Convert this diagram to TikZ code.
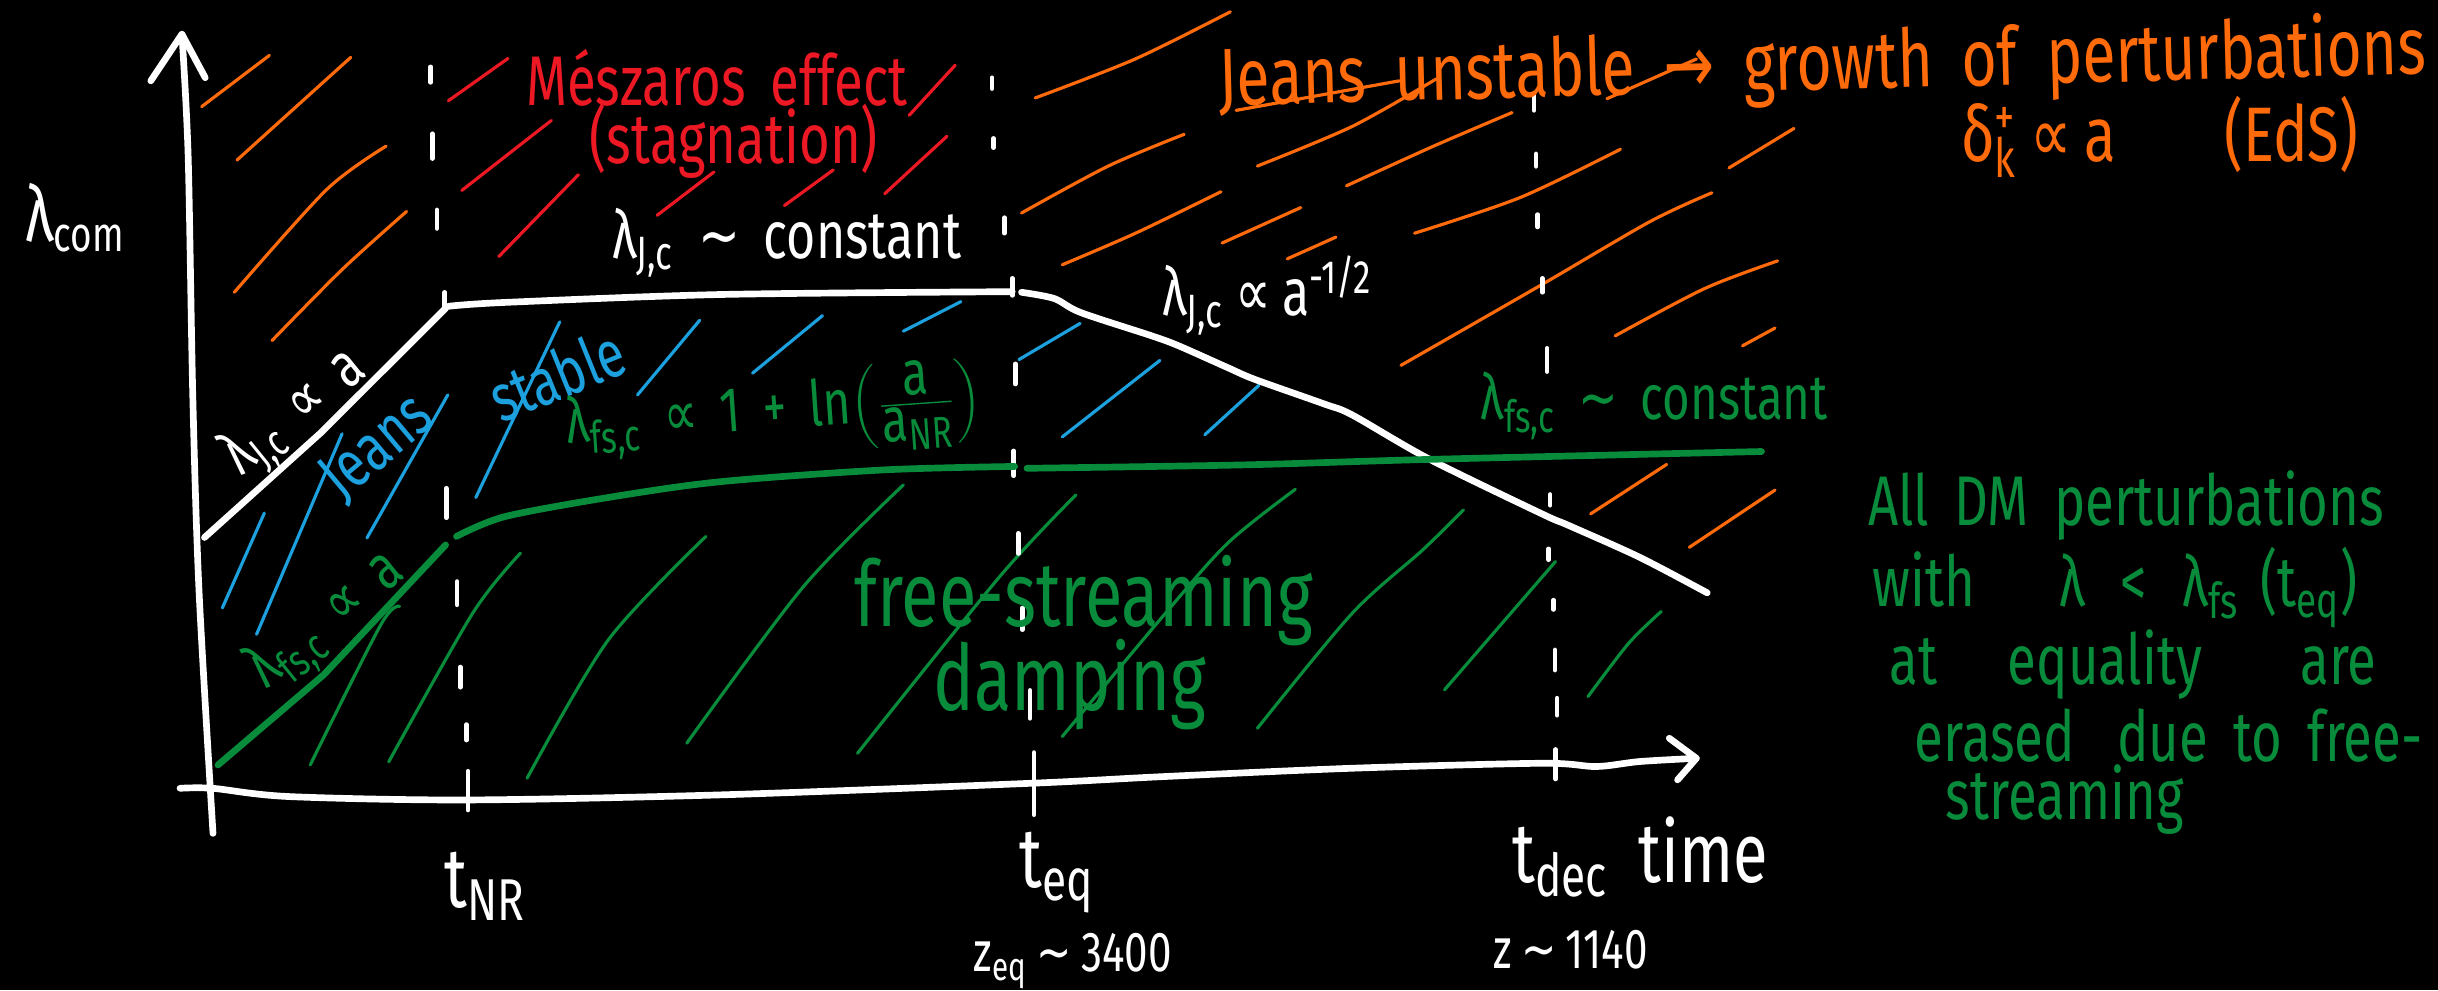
\documentclass[tikz,border=0pt]{standalone}
\usepackage{fontspec}
\setmainfont{Fira Sans}[FakeStretch=0.75,WordSpace=1.8]
\newfontfamily\symf{DejaVu Sans}[FakeStretch=0.75]
\definecolor{ora}{RGB}{255,106,10}
\definecolor{redm}{RGB}{236,24,36}
\definecolor{blu}{RGB}{28,160,222}
\definecolor{grn}{RGB}{8,140,60}
\newcommand{\fs}[1]{\fontsize{#1}{#1}\selectfont}
\newcommand{\lo}[1]{\textsubscript{#1}}
\newcommand{\hi}[1]{\textsuperscript{#1}}
\newcommand{\prop}{{\symf ∝}}
\newcommand{\tld}{{\symf ∼}}
\tikzset{
  hatch/.style={line width=0.9pt, line cap=round, line join=round},
  axis/.style={white, line width=1.9pt, line cap=round, line join=round},
  curve/.style={line width=1.9pt, line cap=round, line join=round},
  dsh/.style={white, line width=1.3pt, line cap=round},
  lbl/.style={inner sep=0pt, anchor=center},
  rblock/.style={inner sep=0pt, anchor=base west, grn},
}
\begin{document}
\begin{tikzpicture}[x=0.015548cm, y=-0.015548cm]
\fill[black] (0,0) rectangle (1568,637);
\useasboundingbox (0,0) rectangle (1568,637);

% ---------- hatching: orange ----------
\begin{scope}[ora, hatch]
\draw (129.7,68.6) -- (173.3,35.6);
\draw (152.4,103) -- (225.6,36.9);
\draw plot[smooth] coordinates {(150.7,188) (210,122) (248.3,94)};
\draw plot[smooth] coordinates {(175,219) (220.4,173) (261.5,136)};
\draw plot[smooth] coordinates {(665.8,63) (730,38) (791.3,7.6)};
\draw plot[smooth] coordinates {(657,137) (712.8,106.8) (761.6,86.4)};
\draw plot[smooth] coordinates {(683.2,170.3) (730.3,150) (785.3,123.3)};
\draw (786,156.3) -- (836.6,133.5);
\draw (827.9,166.5) -- (859.2,152.5);
\draw plot[smooth] coordinates {(808.7,106.8) (869.7,81.3) (923.7,50.8)};
\draw (795,71) -- (900,52);
\draw plot[smooth] coordinates {(866,119.5) (922,94) (972.5,72.4)};
\draw (1033.5,63.5) -- (1091,38);
\draw plot[smooth] coordinates {(909.8,150) (977.8,127) (1042.2,96)};
\draw plot[smooth] coordinates {(901,235) (991.7,183) (1061.4,142.4) (1101,124)};
\draw (1112,108) -- (1153.8,82.6);
\draw plot[smooth] coordinates {(1038.8,216) (1096.3,185.6) (1143.3,167.8)};
\draw (1120.7,222.4) -- (1141.6,211);
\draw (1023,330.5) -- (1071.9,298.7);
\draw (1086.5,352) -- (1141.6,315.2);
\end{scope}

% ---------- hatching: red ----------
\begin{scope}[redm, hatch]
\draw (288.4,64.8) -- (326.7,37.6);
\draw (297,122.5) -- (354.6,77.5);
\draw (320.8,165) -- (372,112.4);
\draw (422.6,138.5) -- (459.2,110.6);
\draw (504.5,132.2) -- (535.9,109.3);
\draw (569,124.6) -- (609,87.7);
\draw (584.7,74.2) -- (614.3,42);
\end{scope}

% ---------- hatching: blue ----------
\begin{scope}[blu, hatch]
\draw (143,391) -- (170,330);
\draw (165,408) -- (220,279);
\draw (236,346) -- (288,254);
\draw (306,320) -- (360,207);
\draw (410,254) -- (450,206);
\draw (484,240) -- (529,203);
\draw (581,213) -- (618,194);
\draw (655.3,231.3) -- (694.7,208);
\draw (683.2,281) -- (746,231.8);
\draw (774.9,279.6) -- (809.7,247.8);
\end{scope}

% ---------- hatching: green ----------
\begin{scope}[grn, hatch]
\draw plot[smooth] coordinates {(199.5,492) (244.8,402) (257,390)};
\draw plot[smooth] coordinates {(250,490) (304,394.4) (334.7,355.8)};
\draw plot[smooth] coordinates {(339,500.5) (391.2,411.6) (454,345)};
\draw plot[smooth] coordinates {(441.7,478) (516.7,377.3) (581,311.9)};
\draw plot[smooth] coordinates {(551.5,484.5) (643,370.8) (692,318.3)};
\draw plot[smooth] coordinates {(683.2,473.7) (747.7,396.6) (789.5,349.4) (833.1,314.7)};
\draw plot[smooth] coordinates {(808.7,468.4) (869.7,394.4) (915,353.7) (941.2,328)};
\draw (929,443.7) -- (1000.4,361.2);
\draw plot[smooth] coordinates {(1021.3,448) (1047.5,413.7) (1068.4,393.3)};
\end{scope}

% ---------- dashed time markers ----------
\foreach \xa/\ya/\xb/\yb in {277/43/277/53, 278/86/278/102, 281/135/281/147, 286/188/286/197,
  287/314/287/333, 294/374/294/389, 296/429/296/442, 300/466/300/476, 301/496/301/521,
  638/50/638/57, 639/89/639/95, 646/140/646/150, 651/179/651/190, 653/234/653/247,
  652/290/652/306, 655/343/655/356, 657.5/391/657.5/405, 662.5/444/662.5/462, 665/484/665/524,
  986.5/60/986.5/71, 988/99/988/107, 989/138/989/146, 992/179/992/188, 995/224/995/239,
  997/318/997/325, 996/353/996/360, 999/386/999/392, 1000/418/1000/431, 1001.5/449/1001.5/460,
  1000.5/482/1000.5/501}
  \draw[dsh] (\xa,\ya) -- (\xb,\yb);

% ---------- axes ----------
\draw[axis] plot[smooth] coordinates {(137,536) (128,380) (124,255) (121,100) (117,22)};
\draw[axis] (97,52) -- (117,22) -- (132,50);
\draw[axis] plot[smooth] coordinates {(115.8,507) (136.7,507) (185.5,512.3) (300.6,514.5)
  (464.4,511.2) (662.4,503.8) (747.7,499.5) (869.7,494.1) (991.7,490.9) (1026.6,493)
  (1054.4,489.8) (1091,487.7)};
\draw[axis] (1073.6,474.8) -- (1091,487.7) -- (1078.9,501.6);

% ---------- Jeans length (white) ----------
\draw[curve, white] (131.5,345.7) -- (206.4,278.3) -- (286.6,198.3);
\draw[curve, white] plot[smooth] coordinates {(288.4,197) (325,194.5) (464.4,189.4) (651,187.6)};
\draw[curve, white] plot[smooth] coordinates {(657,188) (678,192) (695,201) (740.7,216)
  (758,222.4) (789.5,236.4) (807,244) (851.6,259.8) (869.7,266.9) (918.5,294.9)
  (991.7,330.5) (1009,338) (1054.5,358.4) (1098,381.3)};

% ---------- free-streaming length (green) ----------
\draw[curve, grn] (140.2,492) -- (208.2,434) -- (286.6,350.5);
\draw[curve, grn] plot[smooth] coordinates {(293.6,345) (325,332.2) (394.7,319.4)
  (464.4,309.7) (569,302.2) (652.6,300)};
\draw[curve, grn] plot[smooth] coordinates {(660.5,301.2) (800,299) (918,295.5) (1132.9,290.4)};

% ---------- labels ----------
\node[lbl, white] (lcom) at (48,140) {\fs{22}λ\raisebox{-3pt}{\fs{14}com}};
\node[lbl, redm] (mesz) at (461,50) {\fs{20}Mészaros effect};
\node[lbl, redm] (stag) at (472,91) {\fs{20}(stagnation)};
\node[lbl, white] (ljconst) at (506,156) {\fs{19}λ\lo{J,c} \tld\ constant};
\node[lbl, white] (ljdec) at (815,190) {\fs{19}λ\lo{J,c}\,\prop\,a\hi{-1/2}};
\node[lbl, ora, rotate=1.5] (jun) at (1172,43) {\fs{23}Jeans unstable {\symf →} growth of perturbations};
\node[lbl, ora] (delta) at (1389,88) {\fs{22}δ\rlap{\hi{+}}\lo{k}\,\prop\,a\hspace{1.4em}(EdS)};
\node[lbl, white, rotate=39] (ljlin) at (190,266) {\fs{18}λ\lo{J,c} \prop\ a};
\node[lbl, blu, rotate=40] (jeans) at (243,288) {\fs{19}Jeans};
\node[lbl, blu, rotate=22] (stable) at (358,241) {\fs{19}stable};
\node[lbl, grn, rotate=4] (lfslog) at (498,267) {\fs{18}λ\lo{fs,c} \prop\ 1 + ln$\left(\frac{\mbox{a}}{\mbox{a\lo{NR}}}\right)$};
\node[lbl, grn] (lfsconst) at (1064,261) {\fs{18}λ\lo{fs,c} \tld\ constant};
\node[lbl, grn, rotate=39] (lfslin) at (211,400) {\fs{18}λ\lo{fs,c} \prop\ a};
\node[lbl, grn] (free) at (697,386) {\fs{26}free-streaming};
\node[lbl, grn] (damp) at (688,440) {\fs{26}damping};
\node[rblock] (r1) at (1201,338) {\fs{20}All DM perturbations};
\node[rblock] (r2) at (1204,390) {\fs{20}with\hspace{1.2em}λ\hspace{0.5em}<\hspace{0.5em}λ\lo{fs}\hspace{0.3em}(t\lo{eq})};
\node[rblock] (r3) at (1215,440) {\fs{20}at\hspace{1em}equality\hspace{1.4em}are};
\node[rblock] (r4) at (1231,490) {\fs{20}erased\hspace{0.6em}due to free-};
\node[rblock] (r5) at (1251,527) {\fs{20}streaming};
\node[lbl, white] (tnr) at (312,570) {\fs{24}t\lo{NR}};
\node[lbl, white] (teq) at (680,561) {\fs{24}t\lo{eq}};
\node[lbl, white] (tdec) at (1055,551) {\fs{24}t\lo{dec} time};
\node[lbl, white] (zeq) at (690,618) {\fs{16}z\lo{eq}\,\tld\,3400};
\node[lbl, white] (zdec) at (1010,611) {\fs{16}z\,\tld\,1140};
\end{tikzpicture}
\end{document}
